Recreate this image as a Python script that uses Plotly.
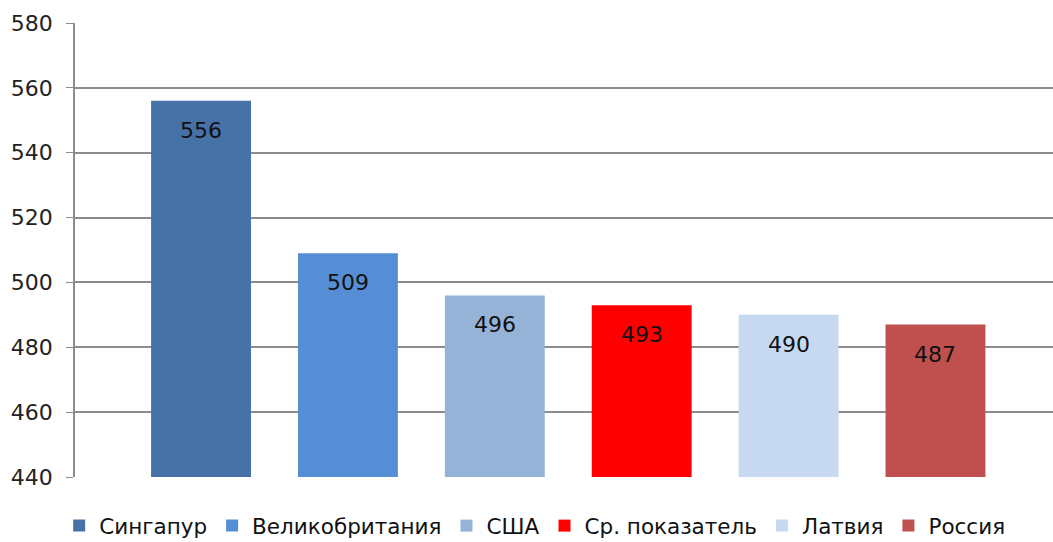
"""PISA-style score bar chart by country."""
import plotly.graph_objects as go

countries = ['Сингапур', 'Великобритания', 'США', 'Ср. показатель', 'Латвия', 'Россия']
scores = [556, 509, 496, 493, 490, 487]
colors = ['#4672A8', '#558ED5', '#95B3D7', '#FF0000', '#C6D9F1', '#C0504D']

y_ticks = [440, 460, 480, 500, 520, 540, 560, 580]

FONT = 'DejaVu Sans'

fig = go.Figure()

for name, val, col in zip(countries, scores, colors):
    fig.add_trace(go.Bar(
        x=[name],
        y=[val],
        name=name,
        width=0.68,
        marker=dict(color=col, line=dict(width=0)),
        hovertemplate='<b>%{x}</b><br>%{y}<extra></extra>'
    ))
    # value label placed just inside the top of the bar
    fig.add_annotation(
        x=name, y=val, text=str(val),
        showarrow=False, yanchor='top', yshift=-15,
        font=dict(family=FONT, size=22, color='#111111')
    )

fig.update_layout(
    width=1053,
    height=542,
    barmode='overlay',
    plot_bgcolor='white',
    paper_bgcolor='white',
    margin=dict(l=75, r=0, t=23, b=65, autoexpand=False),
    font=dict(family=FONT, size=20, color='#222222'),
    showlegend=True,
    legend=dict(
        orientation='h',
        x=0.47, xanchor='center',
        y=-0.062, yanchor='top',
        font=dict(family=FONT, size=21.5, color='#111111'),
        itemsizing='constant',
        traceorder='normal',
    ),
)

fig.update_xaxes(
    type='category',
    range=[-0.858, 5.80],
    showticklabels=False,
    showgrid=False,
    ticks='',
    showline=False,
    zeroline=False,
    automargin=False,
)

fig.update_yaxes(
    range=[440, 580],
    tickvals=y_ticks,
    showgrid=True,
    gridcolor='#8C8C8C',
    gridwidth=1.5,
    showline=True,
    linecolor='#8C8C8C',
    linewidth=1.5,
    ticks='outside',
    ticklen=7,
    tickcolor='#8C8C8C',
    ticklabelstandoff=9,
    tickfont=dict(family=FONT, size=22, color='#222222'),
    zeroline=False,
    automargin=False,
)

# drop the default 8px body margin so the figure sits at the page corner
fig.write_html(
    "out.html",
    config={'displayModeBar': False},
    post_script=["document.body.style.margin='0';"],
)
